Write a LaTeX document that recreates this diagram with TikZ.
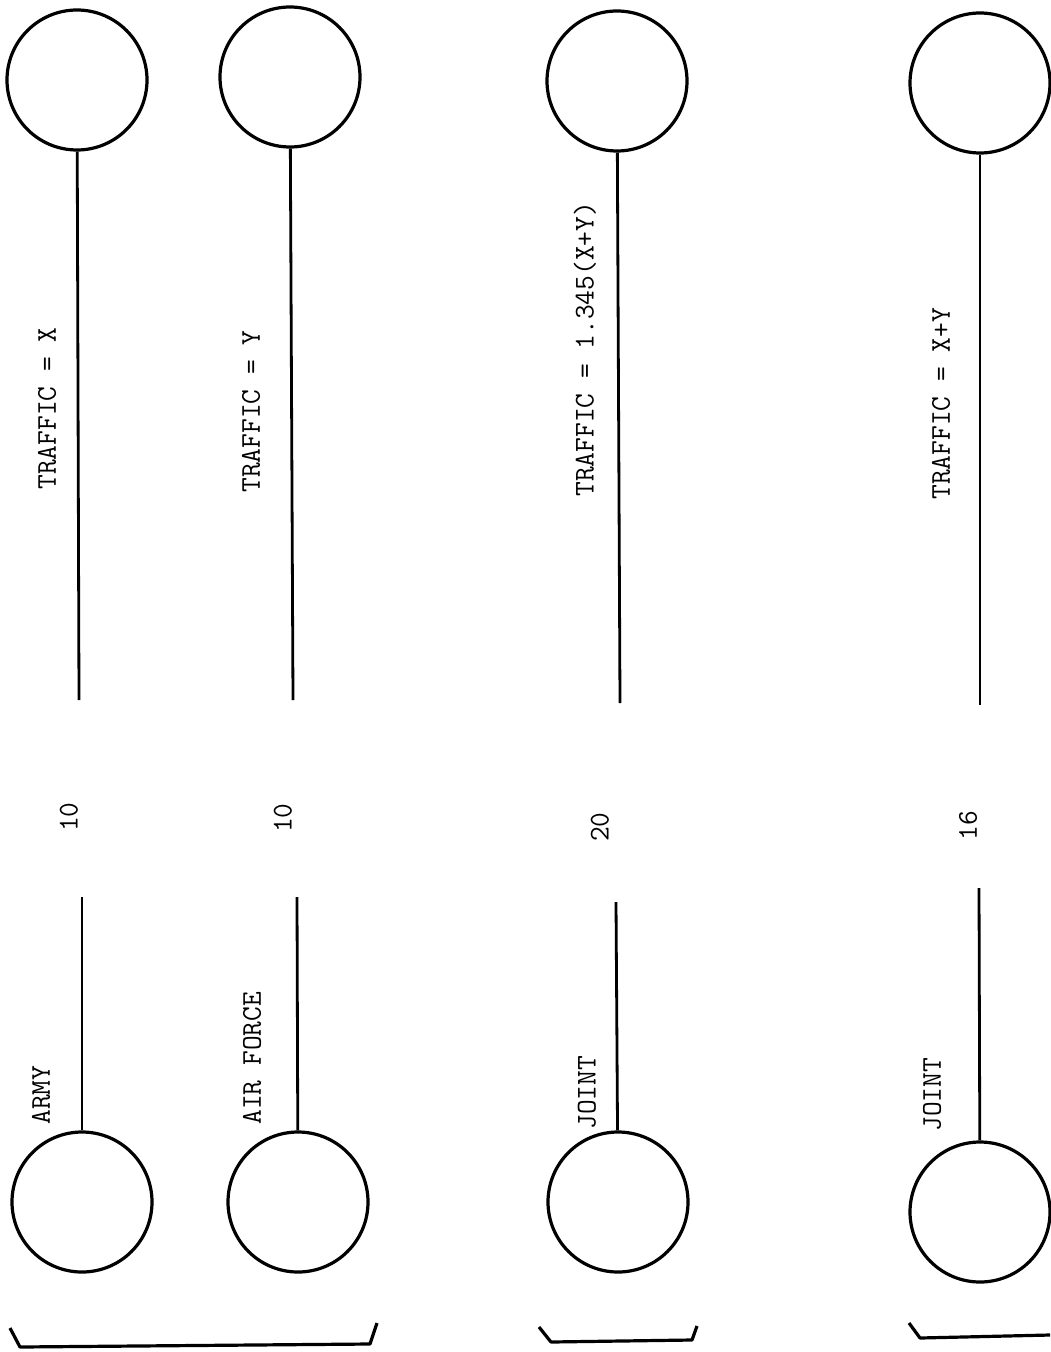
\documentclass[tikz,border=0pt]{standalone}
\usepackage{fontspec}
\usepackage{tikz}
\usetikzlibrary{positioning}

\tikzset{
  site/.style={circle, draw, line width=1.6pt, minimum size=70pt, inner sep=0pt},
  link/.style={line width=1.4pt},
  tag/.style={rotate=90, anchor=west, inner sep=0pt, font=\fontsize{14.3}{17}\ttfamily},
  count/.style={rotate=90, inner sep=0pt, font=\fontsize{14.3}{17}\ttfamily},
  brace/.style={line width=1.6pt, line join=round}
}

\begin{document}
\begin{tikzpicture}[x=0.5pt, y=-0.5pt]
  \useasboundingbox (0,0) rectangle (1050,1352);
  % Circles, top and bottom of each strip
  \node[site] (t1) at (77,80) {};
  \node[site] (b1) at (82,1202) {};
  \node[site] (t2) at (290,77) {};
  \node[site] (b2) at (298,1202) {};
  \node[site] (t3) at (617,81) {};
  \node[site] (b3) at (618,1202) {};
  \node[site] (t4) at (980,83) {};
  \node[site] (b4) at (980,1212) {};
  % Line ends
  \coordinate (u1) at (79,700);  \coordinate (l1) at (82,897);
  \coordinate (u2) at (293,700); \coordinate (l2) at (297,897);
  \coordinate (u3) at (620,703); \coordinate (l3) at (616,902);
  \coordinate (u4) at (980,705); \coordinate (l4) at (979,888);
  \foreach \i in {1,...,4} {
    \draw[link] (t\i) -- (u\i);
    \draw[link] (b\i) -- (l\i);
  }
  % Distances
  \node[count] (n1) at (69,817) {10};
  \node[count] (n2) at (283,818) {10};
  \node[count] (n3) at (600,827) {20};
  \node[count] (n4) at (968,826) {16};
  % Labels
  \node[tag] (army) at (41,1125) {ARMY};
  \node[tag] (air) at (252,1125) {AIR FORCE};
  \node[tag] (joint1) at (587,1130) {JOINT};
  \node[tag] (joint2) at (932,1132) {JOINT};
  \node[tag] (tr1) at (47,490) {TRAFFIC = X};
  \node[tag] (tr2) at (251,493) {TRAFFIC = Y};
  \node[tag] (tr3) at (585,497) {TRAFFIC = 1.345(X+Y)};
  \node[tag] (tr4) at (941,500) {TRAFFIC = X+Y};
  % Brackets
  \draw[brace] (10,1328) -- (20,1347) -- (370,1344) -- (377,1323);
  \draw[brace] (539,1327) -- (551,1342) -- (692,1340) -- (697,1326);
  \draw[brace] (909,1323) -- (920,1338) -- (1050,1335);
\end{tikzpicture}
\end{document}
